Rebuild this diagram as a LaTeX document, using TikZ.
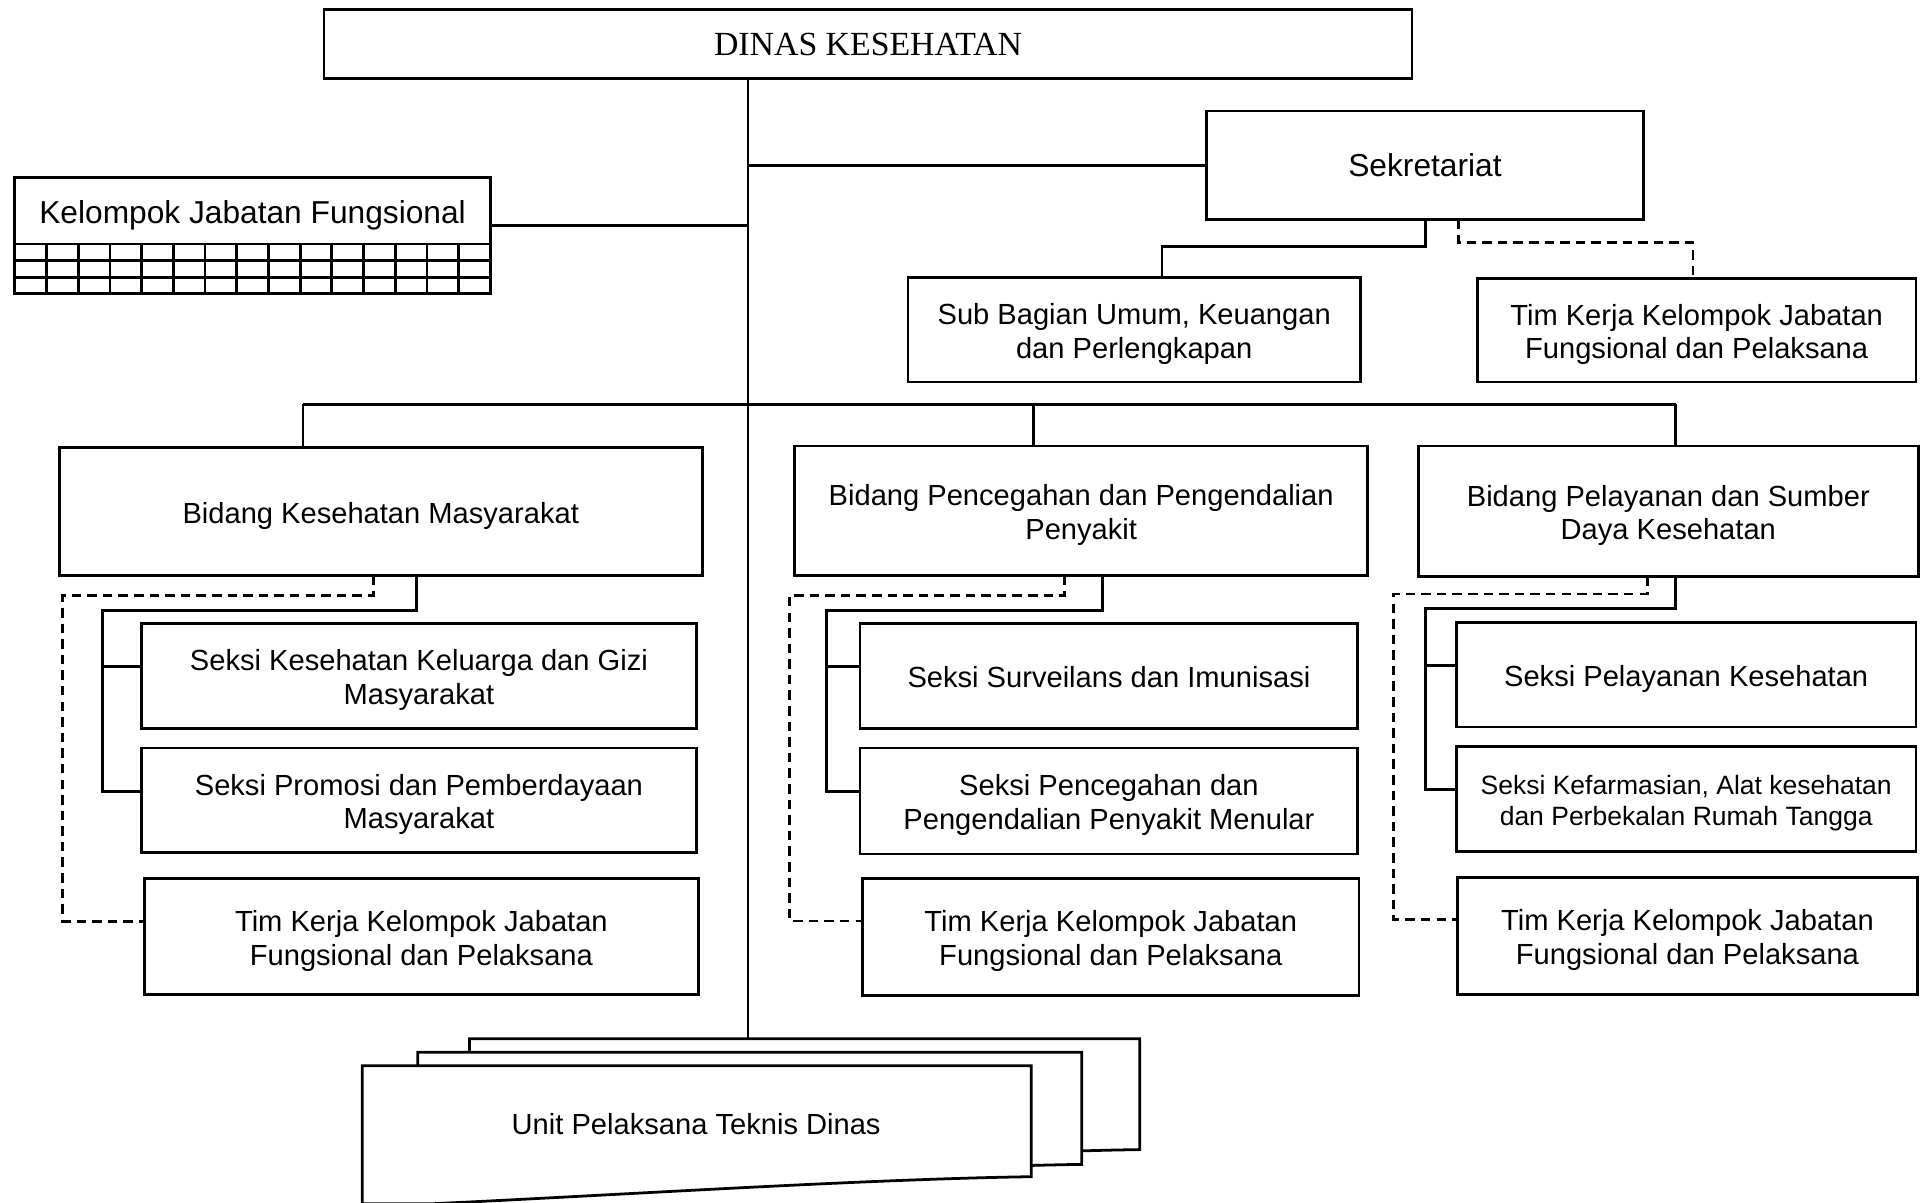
\documentclass[tikz,border=0pt]{standalone}
\usepackage{fontspec}
\setmainfont{Liberation Sans}
\newfontfamily\headserif{Liberation Serif}
% framed unit: name, corners (x1,y1)-(x2,y2), text options, text
\newcommand\orgbox[7]{%
  \node[frame,minimum width={(#4-#2)*0.025cm},minimum height={(#5-#3)*0.025cm}]
    (#1) at ({(#2+#4)/2},{(#3+#5)/2}) {};
  \node[boxtext,yshift=-2.4pt,#6] (#1-t) at (#1.center) {#7};}
% stacked document sheet: top-left (#1,#2), bottom-right corner (#3,#4), wavy lower edge
\newcommand\drawdoc[4]{%
  \draw[docsheet] (#1,#2) -- (#3,#2) -- (#3,#4)
    .. controls ({#3-137},{#4+2}) and ({#3-337},{#4+15}) .. ({#1+56},{#4+22})
    -- (#1,{#4+22}) -- cycle;}
\begin{document}
\begin{tikzpicture}[x=0.025cm,y=-0.025cm,line width=1.6pt,
  frame/.style={draw,fill=white,inner sep=0pt,outer sep=0pt},
  boxtext/.style={inner sep=0pt,align=center,font=\fontsize{16.8}{19.5}\selectfont},
  dlink/.style={dash pattern=on 5.5pt off 3.5pt},
  docsheet/.style={draw,fill=white,line join=miter}]
\useasboundingbox (0,0) rectangle (1568,976);
\clip (0,0) rectangle (1568,976);

% ---- trunk reference
\coordinate (tk) at (607,0);

% ---- head and staff
\orgbox{dinas}{263}{8}{1146}{64}{yshift=2.4pt,font=\headserif\fontsize{19.5}{22}\selectfont}{DINAS KESEHATAN}
\orgbox{sekr}{979}{90}{1334}{178}{yshift=2.4pt,font=\fontsize{18.3}{21}\selectfont}{Sekretariat}
\orgbox{kjf}{12}{144}{398}{198}{font=\fontsize{18.3}{21}\selectfont}{Kelompok Jabatan Fungsional}
\orgbox{kgrid}{12}{198}{398}{238.5}{}{}
\foreach \k in {1,...,14} \draw ({12+\k*25.73},198) -- ({12+\k*25.73},238.5);
\draw (kgrid.west |- 0,211.5) -- (kgrid.east |- 0,211.5);
\draw (kgrid.west |- 0,225) -- (kgrid.east |- 0,225);

% ---- UPT stack
\drawdoc{381}{843}{925}{933}
\drawdoc{339}{854}{878}{945}
\drawdoc{294}{865}{837}{955}
\node[boxtext] (upt) at (565,912) {Unit Pelaksana Teknis Dinas};
\coordinate (uptTop) at (607,843);

% ---- trunk and side links
\draw (dinas.south -| tk) -- (uptTop);
\draw (sekr.west) -- (sekr.west -| tk);
\coordinate (kj) at (398,183);
\draw (kj) -- (kj -| tk);

% ---- secretariat units
\orgbox{sub}{737}{225}{1104}{310}{}{Sub Bagian Umum, Keuangan\\dan Perlengkapan}
\orgbox{timS}{1199}{226}{1555}{310}{}{Tim Kerja Kelompok Jabatan\\Fungsional dan Pelaksana}
\coordinate (s1) at (1157,200); \coordinate (s2) at (943,200);
\draw (sekr.south -| s1) -- (s1) -- (s2) -- (s2 |- sub.north);
\coordinate (s3) at (1184,197); \coordinate (s4) at (1374,197);
\draw[dlink] (sekr.south -| s3) -- (s3) -- (s4) -- (s4 |- timS.north);

% ---- divisions
\orgbox{bkm}{48}{363}{570}{467}{}{Bidang Kesehatan Masyarakat}
\orgbox{bpp}{645}{362}{1110}{467}{}{Bidang Pencegahan dan Pengendalian\\Penyakit}
\orgbox{bps}{1151}{362}{1557}{468}{}{Bidang Pelayanan dan Sumber\\Daya Kesehatan}
\coordinate (b1) at (246,328); \coordinate (b2) at (839,328); \coordinate (b3) at (1360,328);
\draw (b1) -- (b3);
\draw (b1) -- (b1 |- bkm.north);
\draw (b2) -- (b2 |- bpp.north);
\draw (b3) -- (b3 |- bps.north);

% ---- sections
\orgbox{kkg}{115}{506}{565}{591}{}{Seksi Kesehatan Keluarga dan Gizi\\Masyarakat}
\orgbox{ppm}{115}{607}{565}{692}{}{Seksi Promosi dan Pemberdayaan\\Masyarakat}
\orgbox{tim1}{117}{713}{567}{807}{}{Tim Kerja Kelompok Jabatan\\Fungsional dan Pelaksana}
\orgbox{sur}{698}{506}{1102}{591}{yshift=1.4pt}{Seksi Surveilans dan Imunisasi}
\orgbox{p2m}{698}{607}{1102}{693}{}{Seksi Pencegahan dan\\Pengendalian Penyakit Menular}
\orgbox{tim2}{700}{713}{1103}{808}{}{Tim Kerja Kelompok Jabatan\\Fungsional dan Pelaksana}
\orgbox{yan}{1182}{505}{1555}{590}{}{Seksi Pelayanan Kesehatan}
\orgbox{far}{1182}{606}{1555}{691}{font=\fontsize{15.3}{17.8}\selectfont}{Seksi Kefarmasian, Alat kesehatan\\dan Perbekalan Rumah Tangga}
\orgbox{tim3}{1183}{712}{1556}{807}{}{Tim Kerja Kelompok Jabatan\\Fungsional dan Pelaksana}

% left column
\coordinate (k1) at (338,495.5); \coordinate (k2) at (83,495.5);
\draw (bkm.south -| k1) -- (k1) -- (k2) -- (k2 |- 0,642.5) -- (ppm.west |- 0,642.5);
\draw (k2 |- 0,541) -- (kkg.west |- 0,541);
\coordinate (k3) at (303,483); \coordinate (k4) at (51,483);
\draw[dlink] (bkm.south -| k3) -- (k3) -- (k4) -- (k4 |- 0,748) -- (tim1.west |- 0,748);

% middle column
\coordinate (m1) at (895,495.5); \coordinate (m2) at (671,495.5);
\draw (bpp.south -| m1) -- (m1) -- (m2) -- (m2 |- 0,642.5) -- (p2m.west |- 0,642.5);
\draw (m2 |- 0,541) -- (sur.west |- 0,541);
\coordinate (m3) at (864,483); \coordinate (m4) at (641,483);
\draw[dlink] (bpp.south -| m3) -- (m3) -- (m4) -- (m4 |- 0,747.5) -- (tim2.west |- 0,747.5);

% right column
\coordinate (r1) at (1360,494); \coordinate (r2) at (1157,494);
\draw (bps.south -| r1) -- (r1) -- (r2) -- (r2 |- 0,641) -- (far.west |- 0,641);
\draw (r2 |- 0,540) -- (yan.west |- 0,540);
\coordinate (r3) at (1337,482); \coordinate (r4) at (1131,482);
\draw[dlink] (bps.south -| r3) -- (r3) -- (r4) -- (r4 |- 0,746) -- (tim3.west |- 0,746);
\end{tikzpicture}
\end{document}
